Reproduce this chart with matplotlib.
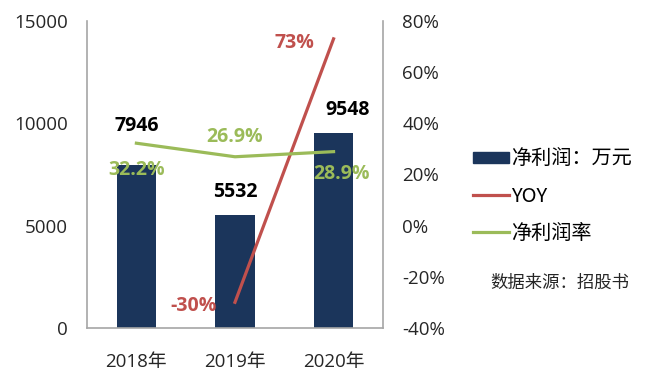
import numpy as np
import matplotlib.pyplot as plt
from matplotlib.lines import Line2D
from matplotlib.patches import Patch

plt.rcParams['font.family'] = ['Open Sans', 'Noto Sans CJK SC', 'DejaVu Sans']

years = ['2018年', '2019年', '2020年']
profit = [7946, 5532, 9548]
yoy_years = [1, 2]
yoy = [-30, 73]
margin = [32.2, 26.9, 28.9]
margin_labels = ['32.2%', '26.9%', '28.9%']

navy = '#1b355b'
red = '#c0504d'
green = '#9bbb59'
grey = '#a6a6a6'
txt = '#262626'

fig = plt.figure(figsize=(6.5, 3.88), dpi=100)
ax = fig.add_axes([0.134, 0.155, 0.455, 0.791])
x = np.arange(len(years))
ax.bar(x, profit, width=0.4, color=navy, zorder=2)
ax.set_ylim(0, 15000)
ax.set_xlim(-0.5, 2.5)
ax.set_yticks([0, 5000, 10000, 15000])
ax.set_xticks(x)
ax.set_xticklabels(years)
ax.tick_params(axis='y', length=0, labelsize=13.5, colors=txt, pad=14)
ax.tick_params(axis='x', length=0, labelsize=13.5, colors=txt, pad=18)
ax.spines['top'].set_visible(False)
for s in ['left', 'bottom', 'right']:
    ax.spines[s].set_color(grey)
    ax.spines[s].set_linewidth(1.2)

offs = [(0, 21), (0, 9), (10, 9)]
for i, v in enumerate(profit):
    ax.annotate(str(v), (x[i], v), xytext=offs[i], textcoords='offset points',
                ha='center', va='bottom', fontsize=14, fontweight='bold', color='black')

ax2 = ax.twinx()
ax2.set_ylim(-40, 80)
ax2.set_yticks(range(-40, 81, 20))
ax2.set_yticklabels([f'{t}%' for t in range(-40, 81, 20)])
ax2.tick_params(length=0, labelsize=13.5, colors=txt, pad=14)
for s in ['top', 'left', 'bottom', 'right']:
    ax2.spines[s].set_visible(False)

ax2.plot(yoy_years, yoy, color=red, lw=2.3, zorder=3)
ax2.plot(x, margin, color=green, lw=2.3, zorder=3)

ax2.annotate('73%', (yoy_years[1], yoy[1]), xytext=(-28, -3), textcoords='offset points',
             ha='center', va='center', fontsize=14, fontweight='bold', color=red)
ax2.annotate('-30%', (yoy_years[0], yoy[0]), xytext=(-30, -3), textcoords='offset points',
             ha='center', va='center', fontsize=14, fontweight='bold', color=red)

moffs = [(0, -19), (0, 14), (6, -16)]
for i, v in enumerate(margin):
    ax2.annotate(margin_labels[i], (x[i], v), xytext=moffs[i], textcoords='offset points',
                 ha='center', va='center', fontsize=14, fontweight='bold', color=green)

handles = [Patch(color=navy), Line2D([], [], color=red, lw=2.3),
           Line2D([], [], color=green, lw=2.3)]
fig.legend(handles, ['净利润：万元', 'YOY', '净利润率'], loc='upper left',
           bbox_to_anchor=(0.727, 0.617), frameon=False,
           prop={'family': ['Noto Sans CJK SC', 'DejaVu Sans'], 'size': 14.5},
           borderpad=0, borderaxespad=0, handlelength=1.8, handleheight=0.5,
           labelspacing=0.8, handletextpad=0.1)
fig.text(0.754, 0.27, '数据来源：招股书', fontsize=12.5, color=txt, va='center',
         family=['Noto Sans CJK SC', 'DejaVu Sans'])

fig.savefig('out.png', dpi=100)
